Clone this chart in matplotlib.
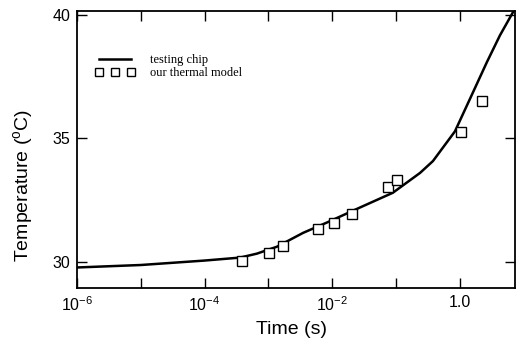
import numpy as np
import matplotlib
matplotlib.use('Agg')
import matplotlib.pyplot as plt
from matplotlib.ticker import FixedLocator, FixedFormatter, NullLocator

plt.rcParams['font.family'] = 'Liberation Sans'
plt.rcParams['mathtext.fontset'] = 'custom'
plt.rcParams['mathtext.rm'] = 'Liberation Sans'
plt.rcParams['mathtext.it'] = 'Liberation Sans'

# Measured curve (testing chip)
chip_time = [1e-6, 1e-5, 1e-4, 3.6e-4, 6.6e-4, 1.36e-3, 3.5e-3, 8.3e-3,
             2.7e-2, 8.9e-2, 0.237, 0.378, 0.836, 1.54, 2.65, 4.24, 6.8]
chip_temp = [29.78, 29.88, 30.06, 30.18, 30.34, 30.62, 31.18, 31.6,
             32.2, 32.8, 33.6, 34.08, 35.28, 36.76, 38.08, 39.16, 40.1]

# Thermal model points
model_time = [3.85e-4, 1.02e-3, 1.69e-3, 5.97e-3, 1.06e-2, 2.03e-2,
              7.45e-2, 0.103, 1.04, 2.21]
model_temp = [30.04, 30.36, 30.64, 31.32, 31.56, 31.96,
              33.04, 33.32, 35.24, 36.52]

x_ticks = [1e-6, 1e-5, 1e-4, 1e-3, 1e-2, 1e-1, 1.0]
x_labels = [r'$10^{-6}$', '', r'$10^{-4}$', '', r'$10^{-2}$', '', '1.0']
y_ticks = [30, 35, 40]

fig = plt.figure(figsize=(5.23, 3.43), dpi=100)
ax = fig.add_axes([0.1472, 0.1603, 0.8375, 0.808])

ax.plot(chip_time, chip_temp, color='black', lw=1.8, label='testing chip')
ax.plot(model_time, model_temp, ls='none', marker='s', ms=7, mfc='white',
        mec='black', mew=1.0, label='our thermal model')

ax.set_xscale('log')
ax.set_xlim(1e-6, 7.3)
ax.set_ylim(28.95, 40.15)

ax.xaxis.set_major_locator(FixedLocator(x_ticks))
ax.xaxis.set_major_formatter(FixedFormatter(x_labels))
ax.xaxis.set_minor_locator(NullLocator())
ax.set_yticks(y_ticks)
ax.tick_params(direction='in', top=True, right=True, length=7, width=1,
               labelsize=11.5, pad=5)

for s in ax.spines.values():
    s.set_linewidth(1.3)

ax.set_xlabel('Time (s)', fontsize=14)
ax.set_ylabel(r'Temperature ($^{\rm o}$C)', fontsize=14)
ax.xaxis.set_label_coords(0.49, -0.12)
ax.yaxis.set_label_coords(-0.095, 0.37)

ax.legend(loc='upper left', bbox_to_anchor=(0.015, 0.885), frameon=False,
          prop={'family': 'Liberation Serif', 'size': 9}, numpoints=3,
          handlelength=3.2, handletextpad=1.2, labelspacing=0.1,
          markerscale=0.75)

fig.savefig('out.png', dpi=100)
